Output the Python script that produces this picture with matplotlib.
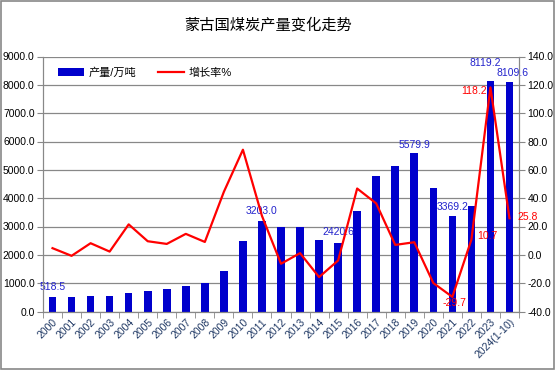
import matplotlib.pyplot as plt
from matplotlib.patches import Rectangle

plt.rcParams['font.family'] = ['Liberation Sans', 'Noto Sans CJK SC']

years = ['2000', '2001', '2002', '2003', '2004', '2005', '2006', '2007', '2008',
         '2009', '2010', '2011', '2012', '2013', '2014', '2015', '2016', '2017',
         '2018', '2019', '2020', '2021', '2022', '2023', '2024(1-10)']
output = [518.5, 510, 553, 553, 659, 729, 800, 906, 1012, 1447, 2494, 3203.0,
          2976, 3000, 2529, 2420.6, 3553, 4788, 5141, 5579.9, 4376, 3369.2,
          3706, 8119.2, 8109.6]
growth = [4.7, -0.7, 8.2, 2.3, 21.5, 9.6, 7.7, 14.8, 9.1, 44.5, 74.2, 27.5,
          -6.3, 1.2, -15.7, -4.0, 46.8, 36.3, 7.0, 8.9, -19.9, -29.7, 10.7,
          118.2, 25.8]

# which points get value labels, with offsets in points
bar_labels = {0: (0, 7), 11: (0, 6.7), 15: (0, 7.7), 19: (0, 5.8), 21: (0, 6.5),
              23: (-3.6, 13.4), 24: (2, 6.3)}
line_labels = {21: (1.4, -4.3), 22: (11.5, 2.9), 23: (-12, -2.9), 24: (13, 1)}

fig = plt.figure(figsize=(5.56, 3.70), dpi=100)
ax = fig.add_axes([43 / 556, 1 - 311.5 / 370, 476 / 556, 255 / 370])
ax2 = ax.twinx()

x = list(range(len(years)))
ax.bar(x, output, width=0.4, color='#0000CC', label='产量/万吨', zorder=2)
ax2.plot(x, growth, color='#FF0000', lw=1.6, label='增长率%', zorder=3)

ax.set_xlim(-0.5, len(years) - 0.5)
ax.set_ylim(0, 9000)
ax2.set_ylim(-40, 140)
ax.set_yticks(range(0, 9001, 1000))
ax.set_yticklabels([f'{v:.1f}' for v in range(0, 9001, 1000)])
ax2.set_yticks(range(-40, 141, 20))
ax2.set_yticklabels([f'{v:.1f}' for v in range(-40, 141, 20)])
ax.yaxis.grid(True, color='#888888', lw=0.9, zorder=0)
ax.set_axisbelow(True)

ax.set_xticks(x)
ax.set_xticklabels(years, rotation=45, ha='right', va='top', rotation_mode='anchor',
                   fontsize=7.5, color='#1F3864')
ax.set_xticks([i - 0.5 for i in range(len(years) + 1)], minor=True)
ax.tick_params(axis='x', which='major', length=0, pad=4)
ax.tick_params(axis='x', which='minor', length=4, color='#888888')
ax.tick_params(axis='y', labelsize=7.5, length=4, color='#888888', pad=2)
ax2.tick_params(axis='y', labelsize=7.5, length=4, color='#888888', pad=2)

for a in (ax, ax2):
    a.spines['top'].set_visible(False)
    for s in ('left', 'right', 'bottom'):
        a.spines[s].set_color('#888888')

for i, (dx, dy) in bar_labels.items():
    ax.annotate(f'{output[i]:.1f}', (x[i], output[i]), xytext=(dx, dy),
                textcoords='offset points', ha='center', va='center',
                fontsize=7.5, color='#2222CC', zorder=5)
for i, (dx, dy) in line_labels.items():
    ax2.annotate(f'{growth[i]:.1f}', (x[i], growth[i]), xytext=(dx, dy),
                 textcoords='offset points', ha='center', va='center',
                 fontsize=7.5, color='#FF0000', zorder=5)

h1, l1 = ax.get_legend_handles_labels()
h2, l2 = ax2.get_legend_handles_labels()
ax.legend(h1 + h2, l1 + l2, loc='upper left', bbox_to_anchor=(0.01, 0.995), ncol=2,
          frameon=False, fontsize=8, handlelength=2.4, columnspacing=1.9,
          handletextpad=0.4)

fig.text(268 / 556, 1 - 25 / 370, '蒙古国煤炭产量变化走势', ha='center', va='center',
         fontsize=11)
fig.patches.append(Rectangle((0.001, 0.002), 0.996, 0.996, transform=fig.transFigure,
                             fill=False, edgecolor='#888888', lw=1.2))

fig.savefig('out.png', dpi=100)
